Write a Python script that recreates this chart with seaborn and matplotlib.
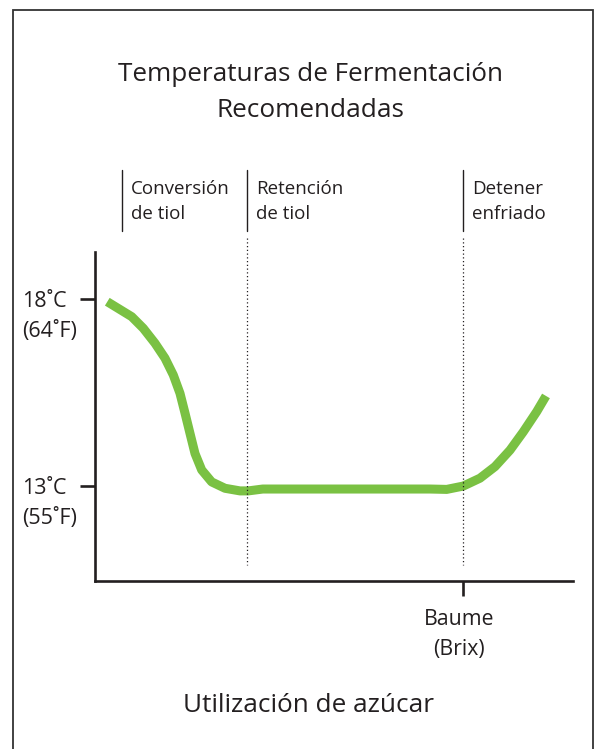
import matplotlib
matplotlib.use("Agg")
import matplotlib.pyplot as plt
import matplotlib.patches as mpatches
import seaborn as sns
import pandas as pd

# curve: x = % along the sugar axis, y = temperature (C)
sugar_pos = [2.57, 4.87, 7.68, 10.10, 12.55, 14.64, 16.38, 17.78, 18.83, 19.87, 20.92,
             22.32, 24.41, 27.20, 30.33, 32.07, 35.1, 53.3, 70.08, 73.58, 77.05,
             80.54, 83.68, 86.82, 89.60, 92.41, 94.35]
temp_c = [17.93, 17.75, 17.53, 17.22, 16.82, 16.42, 15.97, 15.48, 14.95, 14.41, 13.87,
          13.43, 13.11, 12.94, 12.87, 12.87, 12.92, 12.92, 12.92, 12.91, 13.00,
          13.21, 13.52, 13.96, 14.45, 14.99, 15.41]

temp_ticks = [13, 18]
temp_labels = ["13˚C\n(55˚F)", "18˚C\n(64˚F)"]
brix_ticks = [77.0]
brix_labels = ["Baume\n(Brix)"]

phase_x = [5.6, 31.8, 77.0]
phase_labels = ["Conversión\nde tiol", "Retención\nde tiol", "Detener\nenfriado"]
phase_dotted = [False, True, True]

title = "Temperaturas de Fermentación\nRecomendadas"
xlabel = "Utilización de azúcar"

ink = "#231f20"
green = "#7ac143"

sns.set_style("white")
plt.rcParams["font.family"] = ["Open Sans", "DejaVu Sans"]

W, H = 599, 749
fig = plt.figure(figsize=(W / 100, H / 100), dpi=100)
ax = fig.add_axes([95 / W, 1 - 581 / H, 478 / W, 329 / H])

df = pd.DataFrame({"sugar": sugar_pos, "temp": temp_c})
sns.lineplot(data=df, x="sugar", y="temp", ax=ax, color=green, linewidth=6.5,
             solid_capstyle="butt", solid_joinstyle="round", sort=False)

ax.set_xlim(0, 100)
ax.set_ylim(10.46, 19.26)

for s in ["top", "right"]:
    ax.spines[s].set_visible(False)
for s in ["left", "bottom"]:
    ax.spines[s].set_color(ink)
    ax.spines[s].set_linewidth(1.9)

ax.set_yticks(temp_ticks)
ax.set_yticklabels([])
ax.set_xticks(brix_ticks)
ax.set_xticklabels([])
ax.tick_params(axis="both", direction="out", length=10.5, width=1.9, color=ink,
               left=True, bottom=True)
ax.set_xlabel("")
ax.set_ylabel("")

# temperature labels, left aligned near the frame
for t, lab in zip(temp_ticks, temp_labels):
    ax.annotate(lab, xy=(22 / W, t), xycoords=("figure fraction", "data"),
                xytext=(0, 6), textcoords="offset points", ha="left", va="top",
                fontsize=15.5, color=ink, linespacing=1.6)

for b, lab in zip(brix_ticks, brix_labels):
    ax.annotate(lab, xy=(b, 0), xycoords=("data", "axes fraction"),
                xytext=(-3, -20.5), textcoords="offset points", ha="center", va="top",
                fontsize=15.3, color=ink, linespacing=1.56)

# phase markers above the plot
for x, lab, dotted in zip(phase_x, phase_labels, phase_dotted):
    ax.plot([x, x], [21.45, 19.82], color=ink, lw=1.0, clip_on=False)
    if dotted:
        ax.plot([x, x], [19.63, 10.89], color=ink, lw=0.9, ls=(0, (1, 2)), clip_on=False)
    ax.annotate(lab, xy=(x, 21.45), xytext=(6.5, -7.2), textcoords="offset points",
                ha="left", va="top", fontsize=13.5, color=ink, linespacing=1.49,
                annotation_clip=False)

fig.text(310 / W, 1 - 62 / H, title, ha="center", va="top", fontsize=18.8,
         color=ink, linespacing=1.56)
fig.text(308 / W, 1 - 706 / H, xlabel, ha="center", va="center", fontsize=18.8, color=ink)

# frame around the whole graphic (bottom edge runs off the image)
frame = mpatches.Rectangle((13 / W, -0.1), 580 / W, 1.1 - 10 / H, fill=False,
                           edgecolor="#333333", linewidth=1.3, transform=fig.transFigure,
                           clip_on=False)
fig.add_artist(frame)

fig.savefig("out.png", dpi=100)
